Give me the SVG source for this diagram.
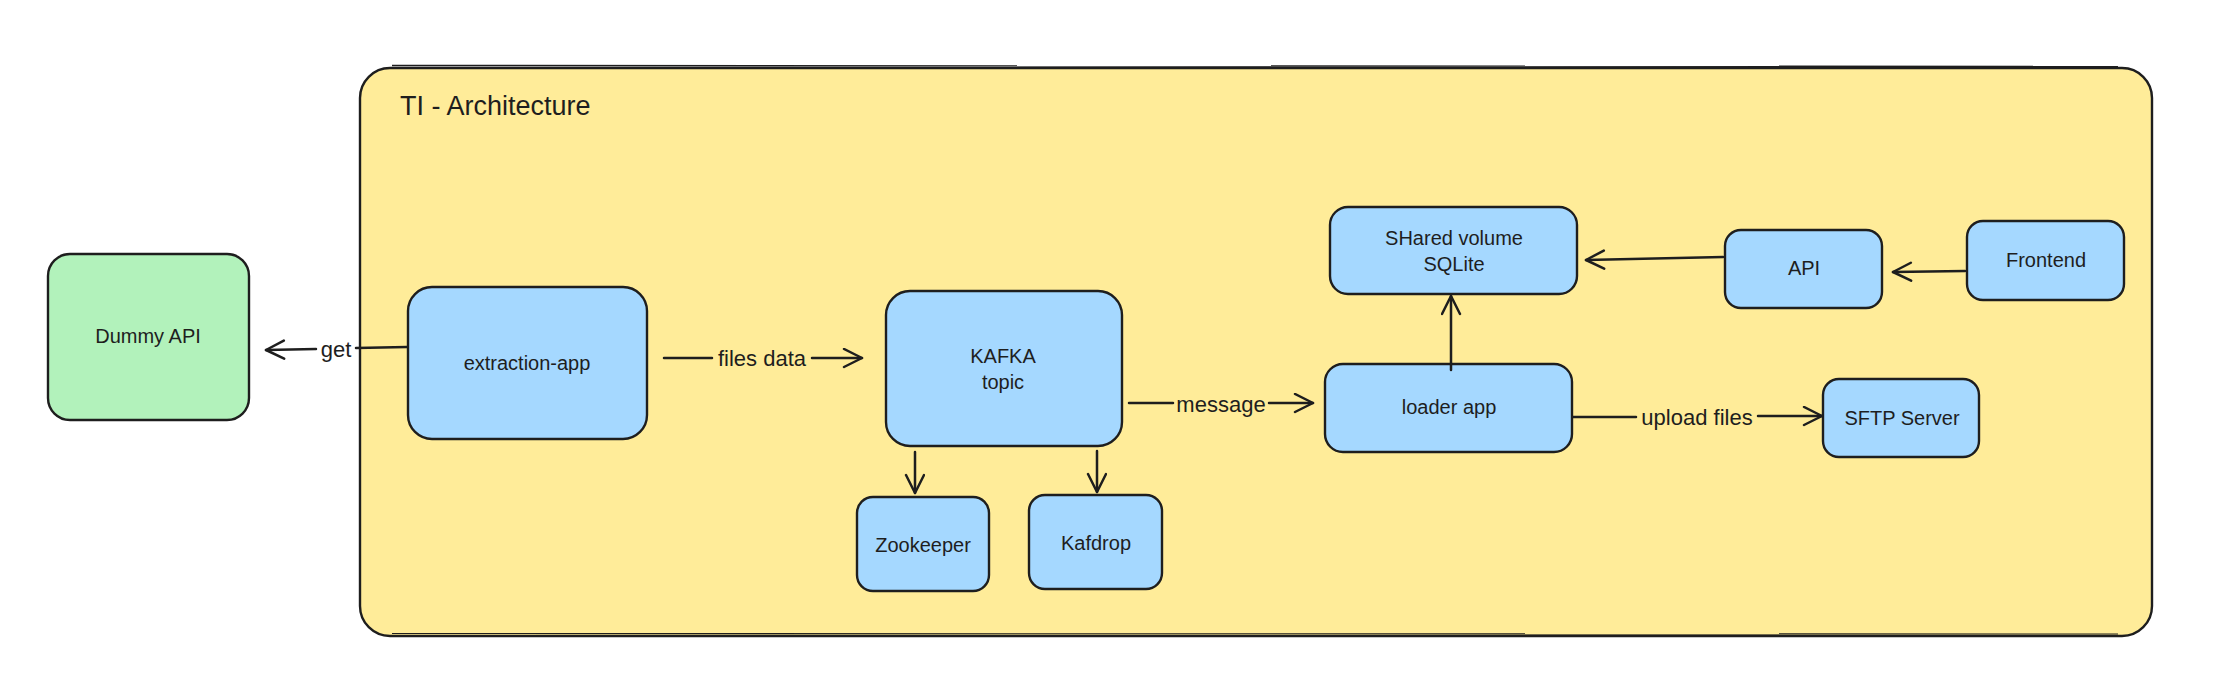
<svg xmlns="http://www.w3.org/2000/svg" width="2216" height="683" viewBox="0 0 2216 683">
<defs>
<style>
.node rect{stroke:#1e1e1e;stroke-width:2.4;}
.blue{fill:#a5d8ff;}
.green{fill:#b2f2bb;}
.t{font-family:"Liberation Sans","DejaVu Sans",sans-serif;font-size:20px;fill:#1e1e1e;text-anchor:middle;dominant-baseline:central;}
.lbl{font-family:"Liberation Sans","DejaVu Sans",sans-serif;font-size:22px;fill:#1e1e1e;text-anchor:middle;dominant-baseline:central;}
.edge{stroke:#1e1e1e;stroke-width:2.5;fill:none;stroke-linecap:round;}
</style>
<marker id="arr" markerWidth="24" markerHeight="24" refX="20" refY="10" orient="auto" markerUnits="userSpaceOnUse" viewBox="0 0 24 24">
<path d="M2,1 L20,10 L2,19" fill="none" stroke="#1e1e1e" stroke-width="2.5" stroke-linecap="round" stroke-linejoin="round"/>
</marker>
</defs>
<rect width="2216" height="683" fill="#ffffff"/>

<g id="container">
<rect x="360" y="68" width="1792" height="568" rx="30" fill="#ffec99" stroke="#1e1e1e" stroke-width="2.4"/>
<path d="M392,65.5 C900,63 1500,63.5 2118,66.5" fill="none" stroke="#1e1e1e" stroke-width="1.4"/>
<path d="M392,633.5 C900,632 1500,632.5 2118,634" fill="none" stroke="#1e1e1e" stroke-width="1.1"/>
<text x="400" y="106" font-family="Liberation Sans, DejaVu Sans, sans-serif" font-size="27" fill="#1e1e1e" dominant-baseline="central">TI - Architecture</text>
</g>

<g id="dummy-api" class="node">
<rect x="48" y="254" width="201" height="166" rx="22" class="green"/>
<text x="148" y="336" class="t">Dummy API</text>
</g>

<g id="extraction-app" class="node">
<rect x="408" y="287" width="239" height="152" rx="24" class="blue"/>
<text x="527" y="363" class="t">extraction-app</text>
</g>

<g id="kafka" class="node">
<rect x="886" y="291" width="236" height="155" rx="24" class="blue"/>
<text x="1003" y="356" class="t">KAFKA</text>
<text x="1003" y="382" class="t">topic</text>
</g>

<g id="zookeeper" class="node">
<rect x="857" y="497" width="132" height="94" rx="16" class="blue"/>
<text x="923" y="545" class="t">Zookeeper</text>
</g>

<g id="kafdrop" class="node">
<rect x="1029" y="495" width="133" height="94" rx="16" class="blue"/>
<text x="1096" y="543" class="t">Kafdrop</text>
</g>

<g id="shared-volume" class="node">
<rect x="1330" y="207" width="247" height="87" rx="18" class="blue"/>
<text x="1454" y="238" class="t">SHared volume</text>
<text x="1454" y="264" class="t">SQLite</text>
</g>

<g id="api" class="node">
<rect x="1725" y="230" width="157" height="78" rx="16" class="blue"/>
<text x="1804" y="268" class="t">API</text>
</g>

<g id="frontend" class="node">
<rect x="1967" y="221" width="157" height="79" rx="16" class="blue"/>
<text x="2046" y="260" class="t">Frontend</text>
</g>

<g id="loader-app" class="node">
<rect x="1325" y="364" width="247" height="88" rx="18" class="blue"/>
<text x="1449" y="407" class="t">loader app</text>
</g>

<g id="sftp-server" class="node">
<rect x="1823" y="379" width="156" height="78" rx="16" class="blue"/>
<text x="1902" y="418" class="t">SFTP Server</text>
</g>

<g id="connectors">
<path class="edge" d="M407,347 L356,348" stroke-width="4"/>
<path class="edge" d="M316,349 L266,350" marker-end="url(#arr)"/>
<text x="336" y="349" class="lbl">get</text>

<path class="edge" d="M664,358 L712,358"/>
<path class="edge" d="M812,358 L862,358" marker-end="url(#arr)"/>
<text x="762" y="358" class="lbl">files data</text>

<path class="edge" d="M1129,403 L1173,403"/>
<path class="edge" d="M1269,403 L1313,403" marker-end="url(#arr)"/>
<text x="1221" y="404" class="lbl">message</text>

<path class="edge" d="M1573,417 L1636,417"/>
<path class="edge" d="M1758,416 L1822,416" marker-end="url(#arr)"/>
<text x="1697" y="417" class="lbl">upload files</text>

<path class="edge" d="M1451,370 L1451,296" marker-end="url(#arr)"/>
<path class="edge" d="M1723,257 L1586,260" marker-end="url(#arr)"/>
<path class="edge" d="M1965,271 L1893,272" marker-end="url(#arr)"/>
<path class="edge" d="M915,452 L915,493" marker-end="url(#arr)"/>
<path class="edge" d="M1097,451 L1097,492" marker-end="url(#arr)"/>
</g>
</svg>
